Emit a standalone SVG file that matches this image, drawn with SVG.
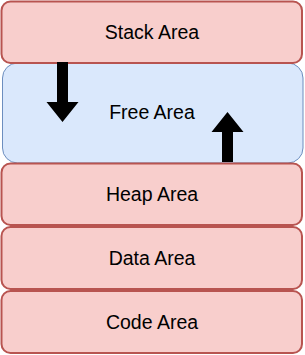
<svg xmlns="http://www.w3.org/2000/svg" width="305" height="355" viewBox="0 0 305 355">
<style>
.red{fill:#f8cecc;stroke:#b85450;stroke-width:2}
.blue{fill:#dae8fc;stroke:#6c8ebf;stroke-width:1}
.lbl{font-family:"Liberation Sans",Arial,Helvetica,sans-serif;font-size:19.5px;fill:#000;text-anchor:middle}
.arr{fill:#000;stroke:none}
</style>
<rect width="305" height="355" fill="#ffffff"/>
<g id="free-area">
<rect class="blue" x="2.5" y="63" width="300.5" height="100" rx="15" ry="15"/>
<text class="lbl" x="152" y="119">Free Area</text>
</g>
<g id="stack-area">
<rect class="red" x="1.5" y="1.5" width="300.5" height="61.5" rx="9" ry="9"/>
<text class="lbl" x="152" y="39">Stack Area</text>
</g>
<g id="heap-area">
<rect class="red" x="1.5" y="163.5" width="300.5" height="61.5" rx="9" ry="9"/>
<text class="lbl" x="152" y="201">Heap Area</text>
</g>
<g id="data-area">
<rect class="red" x="1.5" y="227" width="300.5" height="62" rx="9" ry="9"/>
<text class="lbl" x="152" y="265">Data Area</text>
</g>
<g id="code-area">
<rect class="red" x="1.5" y="291" width="300.5" height="62" rx="9" ry="9"/>
<text class="lbl" x="152" y="329">Code Area</text>
</g>
<g id="connectors">
<polygon class="arr" points="57,62 68,62 68,102 78.5,102 62.5,122 46.5,102 57,102"/>
<polygon class="arr" points="222,162 233,162 233,132 243.5,132 227.5,112 211.5,132 222,132"/>
</g>
</svg>
